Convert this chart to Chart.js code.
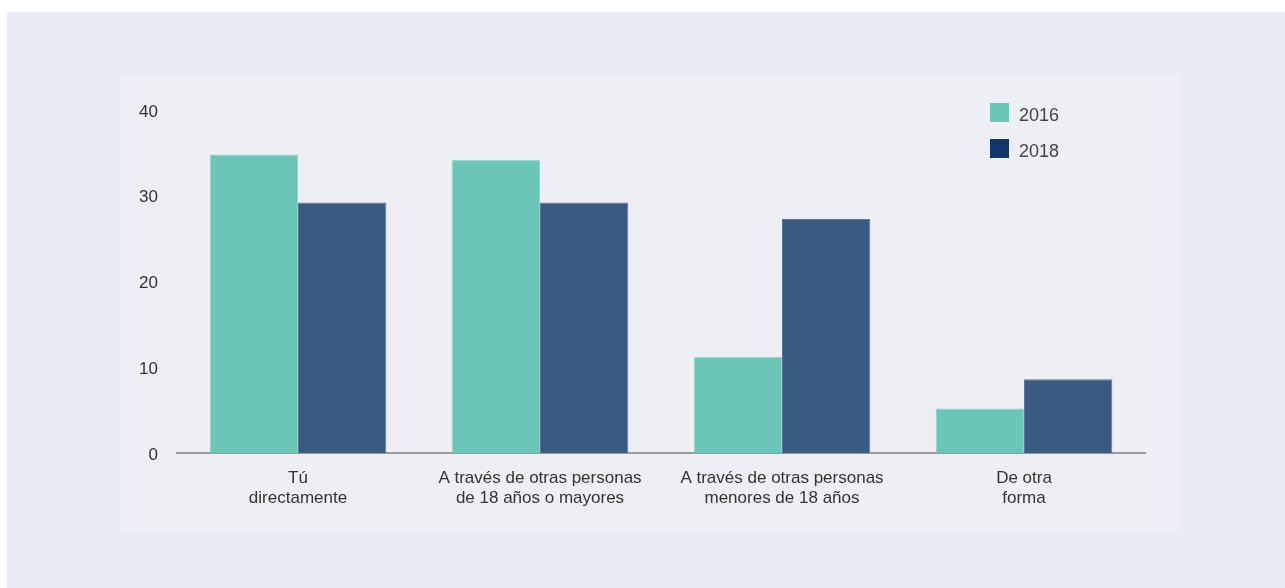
<!DOCTYPE html>
<html>
<head>
<meta charset="utf-8">
<script src="https://cdn.jsdelivr.net/npm/chart.js@4"></script>
<style>
  body { margin: 0; background: #fff; width: 1285px; height: 588px; overflow: hidden; font-family: "Liberation Sans", Arial, sans-serif; }
  #outer { position: absolute; left: 7px; top: 12px; width: 1278px; height: 576px; background: #e8ebf4; }
  #panel { position: absolute; left: 120px; top: 75px; width: 1060px; height: 457px; background: #eeeff5; }
  #legend { position: absolute; left: 990px; top: 103px; font-size: 18px; color: #444; }
  #legend div { height: 36px; display: flex; align-items: flex-start; }
  #legend span.box { width: 19px; height: 19px; margin-right: 10px; display: inline-block; }
  #legend span.lbl { line-height: 24px; margin-top: 0px; }
</style>
</head>
<body>
<div id="outer"></div>
<div id="panel"><canvas id="myChart" width="1060" height="457"></canvas></div>
<div id="legend"></div>
<script>
const categories = [
  ["Tú", "directamente"],
  ["A través de otras personas", "de 18 años o mayores"],
  ["A través de otras personas", "menores de 18 años"],
  ["De otra", "forma"],
];
const values2016 = [34.8, 34.2, 11.2, 5.2];
const values2018 = [29.2, 29.2, 27.3, 8.6];
const yTicks = [0, 10, 20, 30, 40];

const legendItems = [
  { label: "2016", color: "#6bc6b8" },
  { label: "2018", color: "#12386b" },
];
document.getElementById("legend").innerHTML = legendItems
  .map((l) => `<div><span class="box" style="background:${l.color}"></span><span class="lbl">${l.label}</span></div>`)
  .join("");

const ctx = document.getElementById("myChart");
let myChart = new Chart(ctx, {
  type: "bar",
  data: {
    labels: categories,
    datasets: [
      {
        label: "2016",
        data: values2016,
        backgroundColor: "#6bc6b8",
        borderColor: "#8fd4c9",
        borderWidth: 1,
      },
      {
        label: "2018",
        data: values2018,
        backgroundColor: "#3a5a82",
        borderColor: "#5d7699",
        borderWidth: 1,
      },
    ],
  },
  options: {
    responsive: false,
    animation: false,
    layout: {
      padding: { top: 35, right: 35, bottom: 0, left: 0 },
    },
    datasets: {
      bar: {
        barPercentage: 1,
        categoryPercentage: 0.73,
      },
    },
    scales: {
      x: {
        grid: { display: false, drawTicks: false },
        border: { display: true, color: "#9a9a9a", width: 2 },
        ticks: {
          color: "#333",
          padding: 15,
          font: { family: "Liberation Sans", size: 17, lineHeight: 1.18 },
        },
        afterFit: (scale) => {
          scale.height = 79;
        },
      },
      y: {
        min: 0,
        max: 40,
        afterBuildTicks: (scale) => {
          scale.ticks = yTicks.map((v) => ({ value: v }));
        },
        grid: { display: false, drawTicks: false },
        border: { display: false },
        ticks: {
          color: "#333",
          padding: 19,
          labelOffset: 2,
          font: { family: "Liberation Sans", size: 17 },
        },
        afterFit: (scale) => {
          scale.width = 57;
        },
      },
    },
    plugins: {
      legend: { display: false },
      tooltip: { enabled: false },
    },
  },
});
</script>
</body>
</html>
